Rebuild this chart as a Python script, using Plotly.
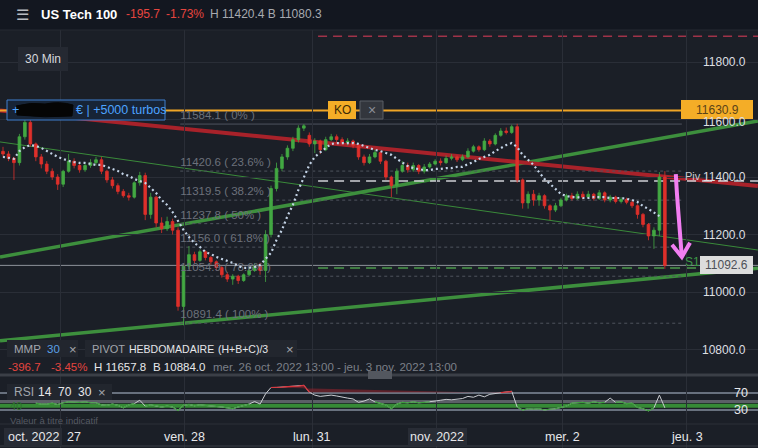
import plotly.graph_objects as go

W, H = 758, 448

# ---- OHLC bars (about one hour each), US Tech 100, 26 oct -> 2 nov 2022 ----
opens = [11489.3, 11480, 11465, 11450, 11540, 11590, 11515, 11470, 11445, 11420,
         11400, 11375, 11420, 11455, 11440, 11425, 11440, 11450, 11460, 11420,
         11390, 11370, 11350, 11335, 11330, 11380, 11405, 11270, 11330, 11240,
         11220, 11245, 11215, 10950, 11090, 11130, 11110, 11140, 11120, 11105,
         11085, 11060, 11045, 11055, 11040, 11060, 11075, 11090, 11075, 11200,
         11360, 11430, 11470, 11500, 11530, 11570, 11545, 11515, 11525, 11495,
         11530, 11540, 11530, 11520, 11525, 11510, 11470, 11450, 11470, 11485,
         11455, 11400, 11370, 11420, 11440, 11425, 11440, 11420, 11435, 11445,
         11455, 11450, 11465, 11470, 11460, 11470, 11490, 11505, 11495, 11525,
         11515, 11545, 11560, 11555, 11575, 11390, 11310, 11340, 11320, 11335,
         11300, 11285, 11300, 11320, 11335, 11325, 11340, 11330, 11340, 11325,
         11345, 11320, 11330, 11315, 11322, 11312, 11300, 11270, 11235, 11195,
         11215, 11400]
highs = [11505, 11490, 11470, 11550, 11600, 11657.8, 11520, 11480, 11455, 11430,
         11410, 11425, 11480, 11465, 11450, 11450, 11462, 11470, 11470, 11425,
         11400, 11378, 11358, 11345, 11385, 11418, 11415, 11345, 11335, 11260,
         11262, 11255, 11225, 11100, 11160, 11140, 11148, 11145, 11125, 11110,
         11090, 11068, 11062, 11060, 11065, 11085, 11100, 11102, 11215, 11370,
         11450, 11480, 11510, 11540, 11580, 11584.1, 11555, 11535, 11530, 11540,
         11550, 11548, 11538, 11535, 11530, 11515, 11478, 11480, 11495, 11490,
         11460, 11405, 11430, 11455, 11450, 11450, 11445, 11445, 11452, 11462,
         11465, 11475, 11480, 11475, 11478, 11500, 11512, 11510, 11535, 11532,
         11552, 11570, 11572, 11582, 11585, 11395, 11350, 11355, 11345, 11340,
         11305, 11310, 11328, 11342, 11345, 11350, 11350, 11352, 11345, 11355,
         11350, 11338, 11335, 11330, 11328, 11318, 11305, 11275, 11240, 11225,
         11417, 11420.4]
lows = [11470, 11455, 11390, 11440, 11530, 11505, 11455, 11430, 11410, 11390,
        11355, 11365, 11415, 11430, 11415, 11418, 11432, 11440, 11410, 11380,
        11360, 11340, 11328, 11318, 11325, 11370, 11250, 11255, 11225, 11205,
        11212, 11200, 10935, 10884.0, 11080, 11100, 11105, 11110, 11095, 11075,
        11050, 11035, 11025, 11028, 11035, 11055, 11070, 11060, 11035, 11190,
        11350, 11420, 11460, 11490, 11520, 11560, 11505, 11483, 11480, 11490,
        11525, 11520, 11512, 11510, 11500, 11460, 11440, 11445, 11465, 11445,
        11390, 11330, 11340, 11415, 11415, 11418, 11410, 11412, 11430, 11440,
        11440, 11445, 11458, 11452, 11455, 11465, 11485, 11488, 11490, 11505,
        11510, 11540, 11548, 11550, 11380, 11290, 11290, 11300, 11300, 11290,
        11250, 11278, 11295, 11315, 11318, 11320, 11322, 11325, 11318, 11320,
        11312, 11312, 11308, 11308, 11305, 11292, 11255, 11225, 11180, 11150,
        11195, 11080.3]
closes = [11480, 11465, 11450, 11540, 11590, 11515, 11470, 11445, 11420, 11400,
          11375, 11420, 11455, 11440, 11425, 11440, 11450, 11460, 11420, 11390,
          11370, 11350, 11335, 11330, 11380, 11405, 11270, 11330, 11240, 11220,
          11245, 11215, 10950, 11090, 11130, 11110, 11140, 11120, 11105, 11085,
          11060, 11045, 11055, 11040, 11060, 11075, 11090, 11075, 11200, 11360,
          11430, 11470, 11500, 11530, 11570, 11578, 11515, 11525, 11495, 11530,
          11540, 11530, 11520, 11525, 11510, 11470, 11450, 11470, 11485, 11455,
          11400, 11370, 11420, 11440, 11425, 11440, 11420, 11435, 11445, 11455,
          11450, 11465, 11470, 11460, 11470, 11490, 11505, 11495, 11525, 11515,
          11545, 11560, 11555, 11575, 11390, 11310, 11340, 11320, 11335, 11300,
          11285, 11300, 11320, 11335, 11325, 11340, 11330, 11340, 11325, 11345,
          11320, 11330, 11315, 11322, 11312, 11300, 11270, 11235, 11195, 11215,
          11400, 11092.6]

# moving average (MMP 30)
ma30 = [11470, 11466, 11463, 11490, 11504, 11511, 11508, 11501, 11490, 11480,
        11470, 11463, 11456, 11452, 11449, 11449, 11445, 11442, 11442, 11435,
        11428, 11421, 11410, 11404, 11393, 11386, 11379, 11362, 11344, 11320,
        11303, 11278, 11247, 11216, 11191, 11170, 11157, 11139, 11132, 11122,
        11115, 11108, 11101, 11090, 11084, 11084, 11087, 11094, 11115, 11136,
        11181, 11216, 11264, 11303, 11355, 11400, 11442, 11470, 11487, 11501,
        11515, 11518, 11518, 11518, 11518, 11515, 11508, 11501, 11494, 11490,
        11483, 11477, 11463, 11452, 11438, 11431, 11428, 11424, 11424, 11428,
        11428, 11431, 11431, 11435, 11435, 11445, 11452, 11463, 11470, 11477,
        11490, 11501, 11511, 11518, 11504, 11477, 11459, 11442, 11417, 11393,
        11376, 11358, 11341, 11334, 11330, 11330, 11327, 11327, 11330, 11330,
        11330, 11327, 11327, 11327, 11324, 11320, 11313, 11299, 11289, 11275,
        11264, None]

# RSI 14
rsi14 = [None] * 6 + [
    46, 44, 44, 46, 43, 47, 49, 48, 48, 49,
    47, 47, 42, 41, 44, 41, 35, 42, 45, 53,
    39, 42, 40, 37, 39, 37, 29, 41, 43, 40,
    42, 41, 40, 39, 37, 35, 33, 37, 41, 44,
    50, 44, 68, 83, 83, 84, 85, 85, 86, 88,
    72, 65, 62, 63, 65, 63, 60, 58, 56, 48,
    51, 56, 49, 46, 42, 33, 44, 48, 47, 49,
    47, 48, 49, 51, 53, 55, 54, 56, 57, 62,
    60, 65, 61, 67, 69, 71, 72, 74, 37, 30,
    33, 32, 33, 30, 32, 33, 36, 39, 46, 47,
    48, 46, 49, 47, 48, 58, 48, 49, 45, 46,
    36, 33, 28, 35, 65, 35]

# axis ticks
day_ticks = [10.42, 33.27, 56.49, 79.34, 102.2, 125.0]
day_labels = ["27", "ven. 28", "lun. 31", "nov. 2022", "mer. 2", "jeu. 3"]
price_ticks = [10800, 11000, 11200, 11400, 11600, 11800]
price_labels = ["10800.0", "11000.0", "11200.0", "11400.0", "11600.0", "11800.0"]

# Fibonacci retracement
fib_levels = [11584.1, 11420.6, 11319.5, 11237.8, 11156.0, 11054.9, 10891.4]
fib_pcts = ["0%", "23.6%", "38.2%", "50%", "61.8%", "78.6%", "100%"]
fib_start, fib_end = 32.4, 124.1

# weekly pivot levels
pivot_level, s1_level, r1_level = 11386.0, 11083.5, 11890.0
pivot_start = 57.6

ko_level = 11630.9
last_price = 11092.6

# trendlines: (x0, price0, x1, price1)
red_trend = (-0.55, 11631, 138.0, 11369)
green_upper = (-0.55, 11122, 138.0, 11595)
green_lower = (-0.55, 10830, 138.0, 11083)
green_thin = (-0.55, 11522, 138.0, 11146)

# hand-drawn arrow
arrow_x = [123.0, 123.2, 123.5, 123.8, 124.1]
arrow_p = [11410, 11345, 11268, 11195, 11122]
arrow_head_x = [122.3, 124.1, 125.6]
arrow_head_p = [11164, 11122, 11171]

# ---- pixel calibration of the panes ----
BAR0_PX, BAR_STEP = 3.0, 5.47
P_REF_PX, P_REF, P_SCALE = 62.0, 11800.0, 0.2875   # px per point
R_REF_PX, R_REF, R_SCALE = 410.0, 30.0, 0.425      # px per RSI unit
x_range = [(0 - BAR0_PX) / BAR_STEP, (W - BAR0_PX) / BAR_STEP]
y_range = [P_REF - (H - P_REF_PX) / P_SCALE, P_REF + P_REF_PX / P_SCALE]
y2_range = [R_REF - (H - R_REF_PX) / R_SCALE, R_REF + R_REF_PX / R_SCALE]

BG = "#1b1f27"
HEADER = "#131720"
GRID = "#2a2e37"
GREEN = "#43a843"
RED = "#de302b"
FONT = "Liberation Sans, Arial, sans-serif"

bars = list(range(len(closes)))

fig = go.Figure()

# fib labels sit under the candles
fig.add_trace(go.Scatter(
    x=[fib_start] * len(fib_levels),
    y=[lv + 27 for lv in fib_levels],
    text=[f"{lv:.1f} ( {p} )" for lv, p in zip(fib_levels, fib_pcts)],
    mode="text", textposition="middle right",
    textfont=dict(family=FONT, size=11.5, color="#6c717b"),
    hoverinfo="skip", showlegend=False))

fig.add_trace(go.Candlestick(
    x=bars, open=opens, high=highs, low=lows, close=closes,
    increasing=dict(line=dict(color=GREEN, width=0.8), fillcolor=GREEN),
    decreasing=dict(line=dict(color=RED, width=0.8), fillcolor=RED),
    whiskerwidth=0, showlegend=False, hoverinfo="skip"))

fig.add_trace(go.Scatter(
    x=bars, y=ma30, mode="lines",
    line=dict(color="#c3d3e6", width=2.2, dash="2px,3px"),
    hoverinfo="skip", showlegend=False))

# RSI pane
rsi_green = [v if v is not None and v < 50 else None for v in rsi14]
rsi_red = [v if v is not None and v > 70 else None for v in rsi14]
rsi_base = [70 if v is not None and v > 70 else None for v in rsi14]
fig.add_trace(go.Scatter(x=bars, y=rsi14, yaxis="y2", mode="lines",
                         line=dict(color="#c9cbd0", width=1),
                         hoverinfo="skip", showlegend=False))
fig.add_trace(go.Scatter(x=bars, y=rsi_green, yaxis="y2", mode="lines",
                         line=dict(color="#3f9a3f", width=1.2),
                         hoverinfo="skip", showlegend=False))
fig.add_trace(go.Scatter(x=bars, y=rsi_base, yaxis="y2", mode="lines",
                         line=dict(width=0), hoverinfo="skip", showlegend=False))
fig.add_trace(go.Scatter(x=bars, y=rsi_red, yaxis="y2", mode="lines",
                         line=dict(color="#d8353c", width=1.2),
                         fill="tonexty", fillcolor="rgba(150,35,45,0.55)",
                         hoverinfo="skip", showlegend=False))

# arrow
fig.add_trace(go.Scatter(x=arrow_x, y=arrow_p, mode="lines",
                         line=dict(color="#f27ef2", width=4, shape="spline"),
                         hoverinfo="skip", showlegend=False))
fig.add_trace(go.Scatter(x=arrow_head_x, y=arrow_head_p, mode="lines",
                         line=dict(color="#f27ef2", width=4),
                         hoverinfo="skip", showlegend=False))

shapes = []


def px(x):
    return x / W


def py(y):
    return 1 - y / H


def hline_data(x0, x1, p, color, width=1, dash=None, layer="below"):
    shapes.append(dict(type="line", xref="x", yref="y", x0=x0, x1=x1, y0=p, y1=p,
                       line=dict(color=color, width=width, dash=dash), layer=layer))


def rect(x0, y0, x1, y1, fill, line=None, layer="above"):
    shapes.append(dict(type="rect", xref="paper", yref="paper",
                       x0=px(x0), x1=px(x1), y0=py(y0), y1=py(y1),
                       fillcolor=fill, line=dict(color=line or fill, width=1 if line else 0),
                       layer=layer))


def pline(x0, y0, x1, y1, color, width=1, layer="above", dash=None):
    shapes.append(dict(type="line", xref="paper", yref="paper",
                       x0=px(x0), x1=px(x1), y0=py(y0), y1=py(y1),
                       line=dict(color=color, width=width, dash=dash), layer=layer))


# trendlines
for (x0, p0, x1, p1), col, wd in [(green_thin, "#3a8a3a", 1),
                                   (green_upper, "#3d8f3d", 3.5),
                                   (green_lower, "#3d8f3d", 3.5),
                                   (red_trend, "#a8222a", 4)]:
    shapes.append(dict(type="line", xref="x", yref="y", x0=x0, y0=p0, x1=x1, y1=p1,
                       line=dict(color=col, width=wd), layer="below"))

# fib lines
for i, lv in enumerate(fib_levels):
    hline_data(fib_start, fib_end, lv, "#4f545e", 1, None if i == 0 else "3px,3px")

# pivot lines
hline_data(pivot_start, x_range[1], r1_level, "#a03349", 1.5, "9px,6px")
hline_data(pivot_start, x_range[1], pivot_level, "#cfd1d6", 1.5, "10px,6px")
hline_data(pivot_start, x_range[1], s1_level, "#4c9a4c", 1.5, "10px,6px")

# knock-out level and last price
hline_data(x_range[0], 127.5, ko_level, "#f0a526", 2)
hline_data(x_range[0], x_range[1], last_price, "#8e929a", 1)

# RSI levels
for lv, col, wd in [(70, "#b6c3d6", 1), (50, "#5b5f67", 3), (40, "#368a36", 4), (30, "#b6c3d6", 1)]:
    shapes.append(dict(type="line", xref="paper", yref="y2", x0=0, x1=1, y0=lv, y1=lv,
                       line=dict(color=col, width=wd), layer="below"))

# header
rect(0, 0, W, 30, HEADER)
pline(0, 30, W, 30, "#262a33", 1)

# scroll bar and pane separators
pline(0, 375, W, 375, "#3b3f47", 3)
rect(368, 371, 392, 379, "#53575f")
pline(0, 424, W, 424, "#2c3038", 1)
pline(0, 446, W, 446, "#3a3e46", 1)

# overlay boxes
rect(18, 47, 68, 71, "#252932")
rect(7, 100, 165, 120, "#172436", line="#3f7fcf")
shapes.append(dict(type="path", xref="paper", yref="paper", layer="above",
                   path=(f"M {px(16)},{py(106)} Q {px(30)},{py(102)} {px(45)},{py(104)} "
                         f"Q {px(60)},{py(101)} {px(73)},{py(105)} L {px(72)},{py(116)} "
                         f"Q {px(45)},{py(118)} {px(17)},{py(115)} Z"),
                   fillcolor="#050505", line=dict(color="#050505", width=1)))
rect(328, 101, 356, 119, "#f4ad27")
rect(360, 101, 383, 119, "#33363d", line="#5a5e66")
rect(681, 100, 753, 119, "#f4ad27")
rect(700, 256, 753, 274, "#dcdcdc")
rect(7, 340, 78, 357, "#22262e")
rect(85, 340, 297, 357, "#22262e")
rect(7, 384, 112, 400, "#22262e")
rect(4, 428, 62, 446, "#282c35")
rect(408, 428, 467, 446, "#282c35")

fig.update_layout(shapes=shapes)

ann = []


def txt(x, y, s, color, size=12, anchor="left", bold=False, ref_y="paper"):
    ann.append(dict(x=px(x), y=py(y) if ref_y == "paper" else y, xref="paper", yref=ref_y,
                    text=f"<b>{s}</b>" if bold else s, showarrow=False,
                    xanchor=anchor, yanchor="middle",
                    font=dict(family=FONT, size=size, color=color)))


# price axis labels (11600.0 sits mostly behind the KO price tag)
for p, lab in zip(price_ticks, price_labels):
    txt(748, p + (-8 if p == 11600 else 0), lab, "#dedfe2", 12, "right", ref_y="y")

# header
txt(14, 14, "☰", "#b8bbc1", 15)
txt(39, 14, "US Tech 100", "#ffffff", 13, bold=True)
txt(124, 14, "-195.7", "#e5453f", 12)
txt(164, 14, "-1.73%", "#e5453f", 12)
txt(208, 14, "H 11420.4 B 11080.3", "#a7aab0", 12)

txt(43, 59, "30 Min", "#d6d8dc", 12, "center")
txt(10, 110, "+", "#4da3ff", 12.5)
txt(74, 110, "€ | +5000 turbos", "#4da3ff", 12.5)
txt(342, 110, "KO", "#3d2a05", 12, "center")
txt(371.5, 110, "×", "#8a8e96", 14, "center")
txt(717, 110, f"{ko_level:.1f}", "#5a4318", 12, "center")
txt(726.5, 265, f"{last_price:.1f}", "#4d5057", 12, "center")
txt(683, 176, "Piv", "#c9cbd0", 11)
txt(683, 262, "S1", "#3e9a48", 12)

# indicator captions
txt(12, 349, "MMP", "#a2a6ad", 11.5)
txt(45, 349, "30", "#5aa0e6", 11.5)
txt(67, 349, "×", "#a2a6ad", 13)
txt(90, 349, "PIVOT", "#a2a6ad", 11)
txt(127, 349, "HEBDOMADAIRE", "#e6e7ea", 10.5)
txt(216, 349, "(H+B+C)/3", "#e6e7ea", 10.5)
txt(284, 349, "×", "#a2a6ad", 13)
txt(6, 367, "-396.7", "#e5453f", 11.5)
txt(49, 367, "-3.45%", "#e5453f", 11.5)
txt(92, 367, "H 11657.8", "#e6e7ea", 11.5)
txt(151, 367, "B 10884.0", "#e6e7ea", 11.5)
txt(211, 367, "mer. 26 oct. 2022 13:00 - jeu. 3 nov. 2022 13:00", "#7c8089", 11.5)
txt(12, 392, "RSI", "#a2a6ad", 12)
txt(36, 392, "14  70  30", "#e6e7ea", 12)
txt(96, 392, "×", "#a2a6ad", 13)
txt(8, 406, "40", "#2f6f2f", 11)
txt(8, 420, "Valeur à titre indicatif", "#555962", 9.5)
txt(750, 393, "70", "#e6e7ea", 12.5, "right")
txt(750, 410, "30", "#e6e7ea", 12.5, "right")

# time axis labels
for d, lab in zip(day_ticks, day_labels):
    xp = BAR0_PX + d * BAR_STEP
    if lab == "27":
        txt(65, 437, lab, "#e6e7ea", 12.5)
    else:
        txt(xp, 437, lab, "#e6e7ea", 12.5, "center")
txt(33, 437, "oct. 2022", "#e6e7ea", 12.5, "center")

fig.update_layout(
    annotations=ann,
    width=W, height=H,
    margin=dict(l=0, r=0, t=0, b=0),
    paper_bgcolor=BG, plot_bgcolor=BG,
    showlegend=False, hovermode=False,
    font=dict(family=FONT),
    xaxis=dict(range=x_range, domain=[0, 1], tickvals=day_ticks, showticklabels=False,
               showgrid=True, gridcolor=GRID, gridwidth=1, zeroline=False, showline=False,
               rangeslider=dict(visible=False), fixedrange=True),
    yaxis=dict(range=y_range, domain=[0, 1], tickvals=price_ticks, showticklabels=False,
               showgrid=True, gridcolor=GRID, gridwidth=1, zeroline=False, showline=False,
               fixedrange=True),
    yaxis2=dict(range=y2_range, domain=[0, 1], overlaying="y", showgrid=False,
                showticklabels=False, zeroline=False, showline=False, fixedrange=True),
)

fig.write_html("out.html")
